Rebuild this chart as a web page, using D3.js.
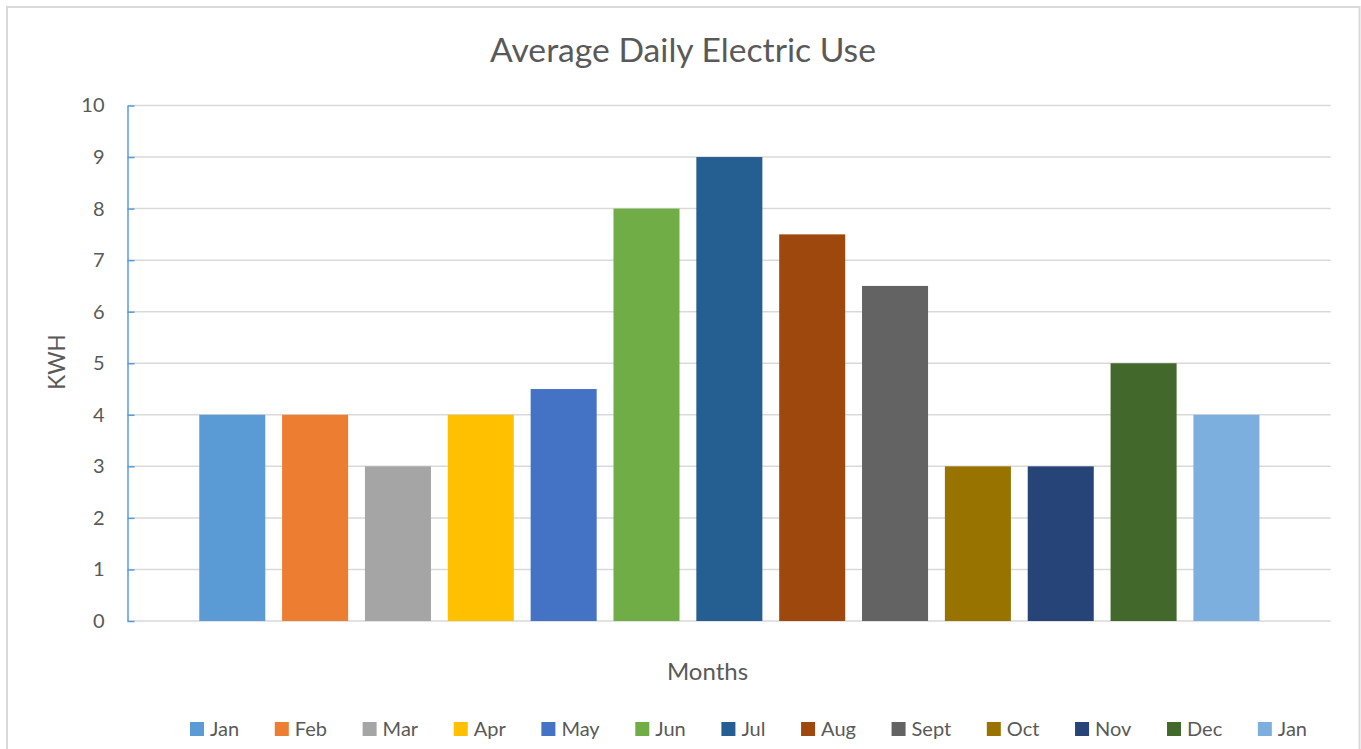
<!DOCTYPE html>
<html>
<head>
<meta charset="utf-8">
<script src="https://cdn.jsdelivr.net/npm/d3@7"></script>
<style>
  html, body { margin: 0; padding: 0; background: #ffffff; }
  svg { display: block; }
  text { font-family: Lato, "Open Sans", sans-serif; fill: #595959; }
</style>
</head>
<body>
<svg id="chart" width="1361" height="749"></svg>
<script>
// ---- data ----
const categories = ["Jan", "Feb", "Mar", "Apr", "May", "Jun", "Jul", "Aug", "Sept", "Oct", "Nov", "Dec", "Jan"];
const values = [4, 4, 3, 4, 4.5, 8, 9, 7.5, 6.5, 3, 3, 5, 4];
const seriesColors = ["#5B9BD5", "#ED7D31", "#A5A5A5", "#FFC000", "#4472C4", "#70AD47",
                      "#255E91", "#9E480E", "#636363", "#997300", "#264478", "#43682B", "#7CAFDD"];
const yTicks = [0, 1, 2, 3, 4, 5, 6, 7, 8, 9, 10];
const titleText = "Average Daily Electric Use";
const xTitle = "Months";
const yTitle = "KWH";

// ---- layout ----
const svg = d3.select("#chart");
const plot = { left: 128, right: 1330.7, top: 105.5, bottom: 621 };

// chart border
svg.append("rect")
  .attr("x", 7).attr("y", 7)
  .attr("width", 1352.5).attr("height", 800)
  .attr("fill", "none").attr("stroke", "#D9D9D9").attr("stroke-width", 2);

const idx = d3.range(categories.length);
const x = d3.scaleBand().domain(idx).range([plot.left, plot.right])
  .paddingInner(0.203).paddingOuter(0.86);
const y = d3.scaleLinear().domain([0, 10]).range([plot.bottom, plot.top]);

// gridlines
svg.append("g").selectAll("line").data(yTicks).join("line")
  .attr("x1", plot.left).attr("x2", plot.right)
  .attr("y1", d => y(d)).attr("y2", d => y(d))
  .attr("stroke", "#D9D9D9").attr("stroke-width", 1.5);

// bars
svg.append("g").selectAll("rect").data(idx).join("rect")
  .attr("x", i => x(i))
  .attr("width", x.bandwidth())
  .attr("y", i => y(values[i]))
  .attr("height", i => y(0) - y(values[i]))
  .attr("fill", i => seriesColors[i]);

// y axis
const yAxis = d3.axisLeft(y).tickValues(yTicks).tickFormat(d3.format("d"))
  .tickSizeInner(-7).tickSizeOuter(0).tickPadding(23);
const gy = svg.append("g").attr("transform", `translate(${plot.left - 0.5},0)`).call(yAxis);
gy.select(".domain").attr("stroke", "#5B9BD5").attr("stroke-width", 1.5);
gy.selectAll(".tick line").attr("stroke", "#5B9BD5").attr("stroke-width", 1.5);
gy.selectAll(".tick text")
  .attr("fill", "#595959")
  .style("font-family", "Lato, 'Open Sans', sans-serif")
  .style("font-size", "20px");

// title
const t = svg.append("text")
  .attr("x", 683).attr("y", 62)
  .attr("text-anchor", "middle")
  .style("font-size", "30px")
  .text(titleText);
const tw = t.node().getComputedTextLength();
t.style("font-size", (30 * 386 / tw).toFixed(2) + "px");

// axis titles
svg.append("text")
  .attr("x", 707.5).attr("y", 680)
  .attr("text-anchor", "middle")
  .style("font-size", "24px")
  .text(xTitle);

svg.append("text")
  .attr("transform", "translate(65,362) rotate(-90)")
  .attr("text-anchor", "middle")
  .style("font-size", "22.5px")
  .text(yTitle);

// legend
const legendStart = 190, legendEnd = 1307, sw = 14, sGap = 6;
const lg = svg.append("g");
const items = lg.selectAll("g").data(idx).join("g");
items.append("rect")
  .attr("width", sw).attr("height", sw)
  .attr("y", 722)
  .attr("fill", i => seriesColors[i]);
items.append("text")
  .attr("x", sw + sGap).attr("y", 736)
  .style("font-size", "20px")
  .text(i => categories[i]);
const widths = [];
items.each(function () {
  widths.push(sw + sGap + d3.select(this).select("text").node().getComputedTextLength());
});
const gap = (legendEnd - legendStart - d3.sum(widths)) / (widths.length - 1);
let cx = legendStart;
items.each(function (d, i) {
  d3.select(this).attr("transform", `translate(${cx},0)`);
  cx += widths[i] + gap;
});
</script>
</body>
</html>
